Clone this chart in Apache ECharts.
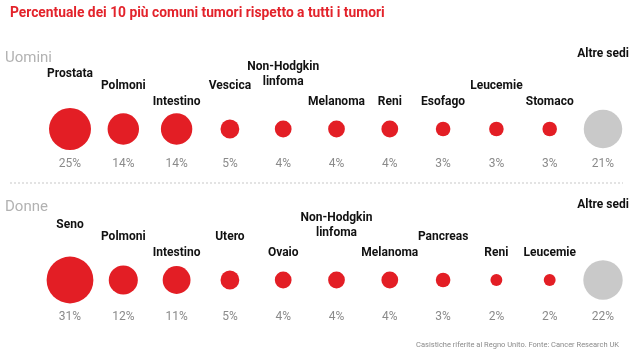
<!DOCTYPE html>
<html><head><meta charset="utf-8">
<script src="https://cdn.jsdelivr.net/npm/echarts@6/dist/echarts.min.js"></script>
<style>html,body{margin:0;padding:0;background:#fff}#c{width:630px;height:356px}</style>
</head><body><div id="c"></div>
<script>
// ---- data ----
const menCategories = ['Prostata','Polmoni','Intestino','Vescica','Non-Hodgkin\nlinfoma','Melanoma','Reni','Esofago','Leucemie','Stomaco','Altre sedi'];
const menValues = [25,14,14,5,4,4,4,3,3,3,21];
const womenCategories = ['Seno','Polmoni','Intestino','Utero','Ovaio','Non-Hodgkin\nlinfoma','Melanoma','Pancreas','Reni','Leucemie','Altre sedi'];
const womenValues = [31,12,11,5,4,4,4,3,2,2,22];

// ---- layout (label stagger levels, not data) ----
const menLevels = [2,1,0,1,2,0,0,0,1,0,3];
const womenLevels = [2,1,0,1,0,2,0,1,0,0,3];
const levelOffsets = [-27,-43,-55,-75];

const RED = '#e31e25', GREY = '#c9c9c9';
const FONT = 'Roboto, "Noto Sans", sans-serif';
const slots = menValues.map((_, i) => i);

function rowSeries(cats, vals, levels, y, pctOffset) {
  const n = vals.length;
  return [
    {
      type: 'scatter', z: 3, silent: true,
      data: vals.map((v, i) => ({
        value: [i, y, v],
        itemStyle: { color: i === n - 1 ? GREY : RED, opacity: 1 }
      })),
      itemStyle: { opacity: 1 },
      symbolSize: d => 8.4 * Math.sqrt(d[2])
    },
    {
      type: 'scatter', z: 4, silent: true, symbolSize: 0,
      itemStyle: { opacity: 1 },
      data: cats.map((c, i) => ({
        value: [i, y], name: c,
        label: { offset: [0, levelOffsets[levels[i]]] }
      })),
      label: {
        show: true, position: 'inside', formatter: p => p.name,
        color: '#111', fontFamily: FONT, fontWeight: 'bold', fontSize: 12,
        lineHeight: 15, align: 'center', verticalAlign: 'middle'
      }
    },
    {
      type: 'scatter', z: 4, silent: true, symbolSize: 0,
      itemStyle: { opacity: 1 },
      data: vals.map((v, i) => ({ value: [i, y, v] })),
      label: {
        show: true, position: 'inside', offset: [0, pctOffset],
        formatter: p => p.value[2] + '%',
        color: '#8a8a8a', fontFamily: FONT, fontSize: 12
      }
    }
  ];
}

const chart = echarts.init(document.getElementById('c'), null, { renderer: 'canvas' });
chart.setOption({
  animation: false,
  backgroundColor: '#fff',
  title: [
    { text: 'Percentuale dei 10 più comuni tumori rispetto a tutti i tumori', left: 5, top: 2,
      textStyle: { color: '#e3232b', fontFamily: FONT, fontWeight: 'bold', fontSize: 13.8 } },
    { text: 'Uomini', left: 0, top: 46, textStyle: { color: '#b2b2b2', fontFamily: FONT, fontWeight: 'normal', fontSize: 15 } },
    { text: 'Donne', left: 0, top: 195, textStyle: { color: '#b2b2b2', fontFamily: FONT, fontWeight: 'normal', fontSize: 15 } },
    { text: 'Casistiche riferite al Regno Unito. Fonte: Cancer Research UK', right: 6, top: 336,
      textStyle: { color: '#8a8a8a', fontFamily: FONT, fontWeight: 'normal', fontSize: 7.5 } }
  ],
  grid: { left: 43.35, right: 0.35, top: 129, bottom: 76 },
  xAxis: { type: 'category', data: slots, boundaryGap: true, show: false },
  yAxis: { type: 'value', min: 0, max: 1, show: false },
  graphic: [
    { type: 'line', shape: { x1: 10, y1: 183, x2: 623, y2: 183 },
      style: { stroke: '#c8c8c8', lineWidth: 1, lineDash: [2, 2] }, silent: true }
  ],
  series: [
    ...rowSeries(menCategories, menValues, menLevels, 1, 35),
    ...rowSeries(womenCategories, womenValues, womenLevels, 0, 37)
  ]
});
</script></body></html>
